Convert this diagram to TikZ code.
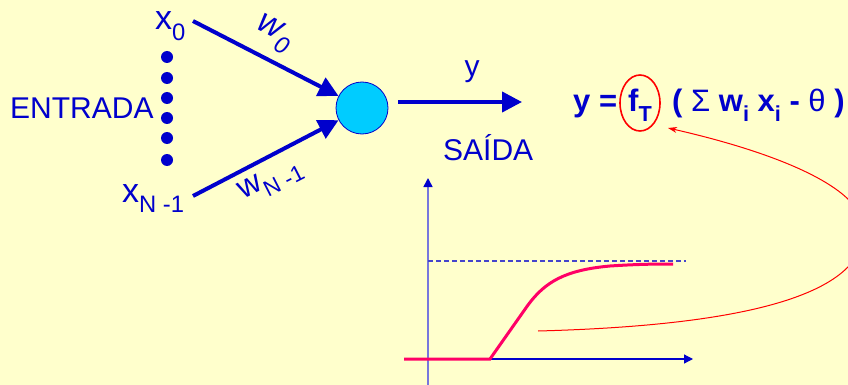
\documentclass[tikz,border=0pt]{standalone}
\usepackage{fontspec}
\setmainfont{Liberation Sans}
\usetikzlibrary{arrows.meta,shapes.geometric}
\definecolor{bg}{HTML}{FFFFCC}
\definecolor{dblue}{HTML}{0000CC}
\definecolor{cyanf}{HTML}{00CCFF}
\definecolor{pinkc}{HTML}{FF0066}
\definecolor{axisl}{HTML}{7777DD}
\definecolor{dashc}{HTML}{4444CC}
\newcommand{\lsub}[1]{\raisebox{-0.3em}{\scalebox{0.7}{#1}}}
\begin{document}
\begin{tikzpicture}[x=1pt,y=-1pt,
  lbl/.style={text=dblue, font=\fontsize{30}{36}\selectfont, inner sep=0pt},
  bigl/.style={text=dblue, font=\fontsize{34}{40}\selectfont, inner sep=0pt},
  formula/.style={text=dblue, font=\fontsize{31}{36}\selectfont\bfseries, inner sep=0pt},
  wire/.style={draw=dblue, line width=4pt, -{Triangle[length=20pt,width=20pt]}},
  dotn/.style={circle, fill=dblue, minimum size=12pt, inner sep=0pt},
  neuron/.style={circle, draw=dblue, fill=cyanf, line width=0.8pt, minimum size=52pt, inner sep=0pt},
  ring/.style={ellipse, draw=red, line width=1.6pt, minimum width=40pt, minimum height=56pt, inner sep=0pt},
  pointer/.style={draw=red, line width=1pt, -{Stealth[length=9pt,width=6pt]}},
  sigm/.style={draw=pinkc, line width=3pt},
  yaxis/.style={draw=axisl, line width=1.6pt, -{Triangle[length=9pt,width=9pt,color=dblue,fill=dblue]}},
  xaxis/.style={draw=dblue, line width=1.2pt, -{Triangle[length=9pt,width=9pt]}},
  limit/.style={draw=dashc, dash pattern=on 5pt off 3pt, line width=1.2pt}
]
\fill[bg] (0,0) rectangle (848,385);
\useasboundingbox (0,0) rectangle (848,385);

% inputs
\node[bigl, anchor=base west] (x0) at (155,30) {x\lsub{0}};
\node[bigl, anchor=base west] (xN) at (122,202) {x\lsub{N -1}};
\node[lbl, anchor=base west] (entrada) at (10,118) {ENTRADA};
\foreach \i/\yy in {1/57,2/78,3/98,4/118,5/138,6/160}
  \node[dotn] (d\i) at (167,\yy) {};

% neuron
\node[neuron] (n) at (362,108) {};
\coordinate (a0) at (193,21);
\coordinate (aN) at (193,196);
\draw[wire] (a0) -- (n);
\draw[wire] (aN) -- (n);
\node[bigl, font=\fontsize{34}{40}\selectfont\itshape, rotate=-27] (w0) at (274,34) {w\lsub{0}};
\node[lbl, font=\fontsize{32}{38}\selectfont, rotate=27] (wN) at (271,181) {w\lsub{N -1}};

% output
\coordinate (os) at (398,102);
\coordinate (oe) at (522,102);
\draw[wire] (os) -- (oe);
\node[lbl] (ylab) at (472,72) {y};
\node[lbl, anchor=base west] (saida) at (443,160) {SAÍDA};

% formula
\node[formula, anchor=base west] (fy) at (573,112) {y =};
\node[ring] (fT) at (640,103) {};
\node[formula, anchor=base west] (ft) at (628,112) {f\lsub{T}};
\node[formula, anchor=base west] (fr) at (672,112) {( {\mdseries Σ} w\lsub{i} x\lsub{i} - {\mdseries θ} )};

% graph
\coordinate (yb) at (428,385);
\coordinate (yt) at (428,178);
\coordinate (xb) at (428,359);
\coordinate (xt) at (693,359);
\coordinate (lb) at (428,261);
\coordinate (le) at (686,261);
\draw[yaxis] (yb) -- (yt);
\draw[xaxis] (xb) -- (xt);
\draw[limit] (lb) -- (le);
\draw[sigm] (404,359) -- (490,359) -- (528,305)
  .. controls (545,282) and (565,270) .. (610,266)
  .. controls (640,264) and (660,264) .. (673,264);

% pointer
\coordinate (cs) at (538,331);
\coordinate (ct) at (668,128);
\draw[pointer] (cs) .. controls (725,326) and (864,300) .. (864,230)
  .. controls (864,185) and (765,150) .. (ct);
\end{tikzpicture}
\end{document}
